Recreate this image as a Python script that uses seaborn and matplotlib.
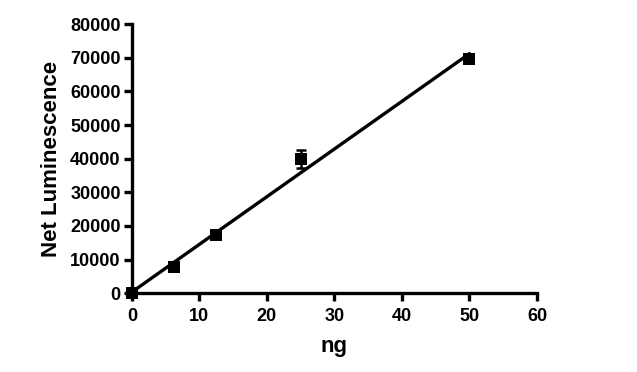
import numpy as np
import pandas as pd
import seaborn as sns
import matplotlib
matplotlib.use("Agg")
import matplotlib.pyplot as plt

# Data
ng = [0, 6.25, 12.5, 25, 50]
luminescence = [0, 7800, 17300, 40000, 69500]
sem = [200, 500, 600, 2700, 700]
x_ticks = [0, 10, 20, 30, 40, 50, 60]
y_ticks = [0, 10000, 20000, 30000, 40000, 50000, 60000, 70000, 80000]

sns.set_style("ticks")
plt.rcParams['font.family'] = ['Liberation Sans', 'DejaVu Sans']
plt.rcParams['font.weight'] = 'bold'
plt.rcParams['text.color'] = 'black'
plt.rcParams['axes.labelcolor'] = 'black'
plt.rcParams['xtick.color'] = 'black'
plt.rcParams['ytick.color'] = 'black'
plt.rcParams['axes.edgecolor'] = 'black'

df = pd.DataFrame({"ng": ng, "lum": luminescence, "sem": sem})

fig = plt.figure(figsize=(6.37, 3.72), dpi=100)
ax = fig.add_axes([0.207, 0.212, 0.636, 0.723])

ax.errorbar(df["ng"], df["lum"], yerr=df["sem"], fmt="none", ecolor="black",
            elinewidth=1.8, capsize=3.5, capthick=1.8, zorder=3, clip_on=False)
sns.regplot(data=df, x="ng", y="lum", ax=ax, ci=None, marker="s", color="black",
            scatter_kws={"s": 70, "clip_on": False, "zorder": 4, "linewidths": 0,
                         "alpha": 1},
            line_kws={"linewidth": 2.4, "clip_on": False, "zorder": 3})

ax.set_xlim(0, 60)
ax.set_ylim(0, 80000)
ax.set_xticks(x_ticks)
ax.set_yticks(y_ticks)
ax.set_xticklabels([str(v) for v in x_ticks])
ax.set_yticklabels([str(v) for v in y_ticks])
sns.despine(ax=ax)
for s in ["left", "bottom"]:
    ax.spines[s].set_linewidth(2.4)
    ax.spines[s].set_color("black")
ax.tick_params(axis="both", width=2.4, length=5.5, labelsize=13,
               color="black", labelcolor="black")
ax.tick_params(axis="x", pad=5)
ax.tick_params(axis="y", pad=2.5)
for lab in ax.get_xticklabels() + ax.get_yticklabels():
    lab.set_fontweight("bold")

ax.set_xlabel("ng", fontsize=16, fontweight="bold", labelpad=8, color="black")
ax.set_ylabel("Net Luminescence", fontsize=16, fontweight="bold", labelpad=6,
              color="black")

fig.savefig("out.png", dpi=100, facecolor="white")
